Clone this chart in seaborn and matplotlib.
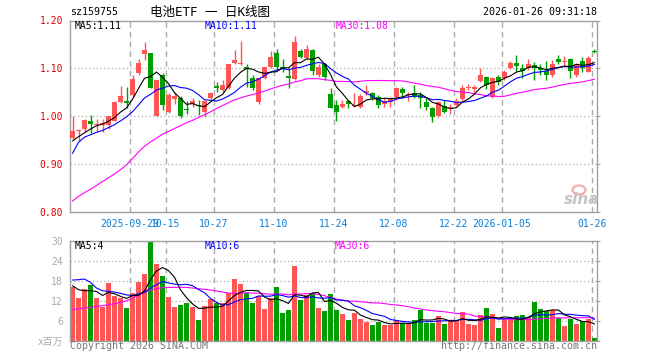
import numpy as np
import pandas as pd
import matplotlib
matplotlib.use("Agg")
import matplotlib.pyplot as plt
from matplotlib.patches import Ellipse
import seaborn as sns

# ---------------- data ----------------
open_ = [0.955, 0.968, 0.973, 0.990, 0.981, 0.981, 0.981, 0.990, 1.030, 1.031,
         1.044, 1.091, 1.129, 1.131, 1.000, 1.087, 1.009, 1.036, 1.038, 1.015,
         1.025, 1.023, 1.008, 1.037, 1.063, 1.054, 1.058, 1.112, 1.109, 1.102,
         1.080, 1.030, 1.079, 1.102, 1.131, 1.102, 1.084, 1.077, 1.136, 1.122,
         1.138, 1.087, 1.110, 1.047, 1.023, 1.020, 1.031, 1.022, 1.020, 1.049,
         1.049, 1.040, 1.026, 1.030, 1.039, 1.056, 1.044, 1.049, 1.045, 1.030,
         1.017, 1.000, 1.022, 1.016, 1.024, 1.036, 1.058, 1.056, 1.073, 1.082,
         1.040, 1.082, 1.079, 1.101, 1.111, 1.101, 1.100, 1.107, 1.100, 1.094,
         1.086, 1.119, 1.114, 1.119, 1.086, 1.115, 1.093, 1.136]
close = [0.969, 0.970, 0.992, 0.984, 0.984, 0.986, 1.000, 1.030, 1.042, 1.027,
         1.077, 1.112, 1.138, 1.059, 1.075, 1.023, 1.045, 1.042, 1.000, 1.013,
         1.031, 1.022, 1.032, 1.049, 1.058, 1.065, 1.108, 1.117, 1.110, 1.098,
         1.058, 1.079, 1.102, 1.123, 1.102, 1.098, 1.080, 1.155, 1.124, 1.140,
         1.095, 1.102, 1.082, 1.017, 1.009, 1.026, 1.026, 1.023, 1.042, 1.052,
         1.038, 1.024, 1.031, 1.037, 1.059, 1.049, 1.047, 1.040, 1.037, 1.020,
         0.999, 1.030, 1.009, 1.020, 1.031, 1.058, 1.061, 1.061, 1.086, 1.065,
         1.080, 1.072, 1.093, 1.111, 1.105, 1.094, 1.108, 1.100, 1.096, 1.087,
         1.110, 1.114, 1.115, 1.094, 1.108, 1.100, 1.122, 1.135]
high = [1.000, 0.974, 0.994, 1.003, 0.994, 0.993, 1.001, 1.031, 1.063, 1.061,
        1.086, 1.119, 1.155, 1.131, 1.076, 1.091, 1.049, 1.051, 1.043, 1.031,
        1.037, 1.033, 1.033, 1.051, 1.072, 1.075, 1.108, 1.138, 1.157, 1.108,
        1.087, 1.080, 1.103, 1.136, 1.141, 1.119, 1.100, 1.167, 1.141, 1.148,
        1.141, 1.110, 1.112, 1.058, 1.033, 1.033, 1.033, 1.049, 1.047, 1.066,
        1.051, 1.044, 1.037, 1.040, 1.061, 1.061, 1.051, 1.066, 1.051, 1.037,
        1.020, 1.031, 1.033, 1.026, 1.038, 1.066, 1.068, 1.065, 1.100, 1.084,
        1.082, 1.086, 1.096, 1.115, 1.128, 1.110, 1.119, 1.114, 1.110, 1.115,
        1.117, 1.128, 1.126, 1.122, 1.112, 1.124, 1.126, 1.141]
low = [0.952, 0.947, 0.966, 0.964, 0.969, 0.967, 0.972, 0.989, 1.027, 1.017,
       1.040, 1.087, 1.117, 1.058, 1.000, 1.013, 1.006, 1.026, 0.997, 1.004,
       1.020, 1.002, 0.999, 1.035, 1.051, 1.051, 1.056, 1.110, 1.106, 1.061,
       1.054, 1.026, 1.077, 1.100, 1.096, 1.093, 1.059, 1.076, 1.122, 1.119,
       1.086, 1.082, 1.075, 1.016, 0.990, 1.017, 1.017, 1.020, 1.017, 1.045,
       1.033, 1.016, 1.020, 1.020, 1.033, 1.037, 1.031, 1.037, 1.017, 1.013,
       0.988, 0.999, 1.006, 1.004, 1.022, 1.033, 1.054, 1.051, 1.072, 1.056,
       1.038, 1.065, 1.075, 1.098, 1.094, 1.080, 1.096, 1.075, 1.086, 1.075,
       1.082, 1.110, 1.103, 1.080, 1.082, 1.093, 1.092, 1.132]
volume = [16.0, 12.8, 15.5, 16.7, 12.8, 10.1, 17.3, 13.5, 12.8, 9.8,
          14.3, 17.6, 20.1, 29.6, 23.0, 19.4, 13.1, 10.1, 10.7, 11.3,
          10.1, 6.2, 10.4, 12.5, 11.2, 11.4, 14.2, 18.5, 17.1, 14.2,
          11.4, 13.4, 9.5, 12.7, 16.1, 8.4, 9.2, 22.5, 12.2, 13.6,
          14.2, 9.8, 8.9, 14.0, 9.2, 8.0, 6.2, 8.4, 6.6, 5.6,
          4.7, 5.6, 4.7, 4.7, 6.2, 5.2, 4.9, 6.2, 9.2, 5.4,
          5.4, 7.4, 5.0, 6.0, 6.0, 8.6, 5.0, 4.7, 7.7, 9.8,
          8.0, 3.8, 6.4, 6.8, 7.4, 7.7, 7.0, 11.6, 9.5, 8.9,
          9.2, 6.8, 4.4, 6.6, 5.0, 6.0, 6.6, 0.8]

# moving-average values at the start of the window
ma5_head = [0.948, 0.957, 0.965, 0.973]
ma10_head = [0.922, 0.945, 0.956, 0.961, 0.966, 0.970, 0.976, 0.982, 0.990]
ma30_head = [0.822, 0.832, 0.840, 0.847, 0.855, 0.863, 0.871, 0.879, 0.888, 0.898,
             0.911, 0.925, 0.937, 0.946, 0.954, 0.962, 0.968, 0.974, 0.980, 0.986,
             0.991, 0.997, 1.003, 1.009, 1.016, 1.022, 1.028, 1.034, 1.038]
vma5_head = [16.5, 15.3, 15.0, 15.0]
vma10_head = [18.2, 18.3, 18.5, 17.5, 15.8, 15.0, 14.8, 14.6, 14.2]
vma30_head = [9.3, 9.6, 9.8, 10.0, 10.3, 10.5, 10.8, 11.1, 11.5, 12.0,
              12.7, 13.7, 14.5, 15.2, 15.6, 15.9, 16.0, 16.0, 16.0, 16.0,
              15.8, 15.6, 15.4, 15.2, 14.9, 14.6, 14.3, 14.2, 14.2]

tick_pos = [10, 16, 24, 34, 44, 54, 64, 72, 87]
tick_labels = ["2025-09-29", "10-15", "10-27", "11-10", "11-24",
               "12-08", "12-22", "2026-01-05", "01-26"]
price_ticks = [0.80, 0.90, 1.00, 1.10, 1.20]
price_tick_labels = ["0.80", "0.90", "1.00", "1.10", "1.20"]
vol_ticks = [0, 6, 12, 18, 24, 30]
vol_tick_labels = ["x百万", "6", "12", "18", "24", "30"]

# ---------------- build frame ----------------
df = pd.DataFrame({"open": open_, "close": close, "high": high, "low": low,
                   "volume": volume})
n = len(df)
df["x"] = np.arange(n)


def moving(series, w, head):
    m = series.rolling(w).mean()
    m.iloc[:len(head)] = head
    return m


df["ma5"] = moving(df["close"], 5, ma5_head)
df["ma10"] = moving(df["close"], 10, ma10_head)
df["ma30"] = moving(df["close"], 30, ma30_head)
df["vma5"] = moving(df["volume"], 5, vma5_head)
df["vma10"] = moving(df["volume"], 10, vma10_head)
df["vma30"] = moving(df["volume"], 30, vma30_head)

RED = "#ff5555"
GREEN = "#009e00"
GRID = "#aaaaaa"
FRAME = "#a0a0a0"
MONO = ["DejaVu Sans Mono", "Noto Sans CJK SC"]
LW = 0.8

sns.set_style("white")
plt.rcParams["font.family"] = MONO

W, H = 660, 360
fig = plt.figure(figsize=(W / 100, H / 100), dpi=100)


def fr(x0, y0, x1, y1):
    return [x0 / W, 1 - y1 / H, (x1 - x0) / W, (y1 - y0) / H]


ax = fig.add_axes(fr(70, 20.5, 597, 211.7))
axv = fig.add_axes(fr(70, 240.7, 597, 340.7))

xlim = (-0.417, n - 1 + 0.417)
up = df["close"] >= df["open"]
cols = np.where(up, RED, GREEN)

# grids
for a in (ax, axv):
    for p in tick_pos:
        a.axvline(p - 0.42, color=GRID, lw=1.0, ls=(0, (4, 3)), zorder=0)
for yv in [0.90, 1.00, 1.10]:
    ax.axhline(yv, color=GRID, lw=0.9, ls=(0, (1, 2)), zorder=0)
for yv in [6, 12, 18, 24]:
    axv.axhline(yv, color=GRID, lw=0.9, ls=(0, (1, 2)), zorder=0)

# candles
ax.vlines(df["x"], df["low"], df["high"], colors=cols, lw=1.0, zorder=2)
body_b = np.minimum(df["open"], df["close"])
body_h = np.maximum((df["close"] - df["open"]).abs(), 0.0022)
ax.bar(df["x"], body_h, bottom=body_b, width=0.8, color=cols, linewidth=0,
       zorder=3)

# moving averages
sns.lineplot(data=df, x="x", y="ma30", ax=ax, color="#ff00ff", lw=LW,
             zorder=4, legend=False)
sns.lineplot(data=df, x="x", y="ma10", ax=ax, color="#0000ff", lw=LW,
             zorder=5, legend=False)
sns.lineplot(data=df, x="x", y="ma5", ax=ax, color="black", lw=LW,
             zorder=6, legend=False)

# volume
axv.bar(df["x"], df["volume"], width=0.8, color=cols, linewidth=0, zorder=2)
sns.lineplot(data=df, x="x", y="vma30", ax=axv, color="#ff00ff", lw=LW,
             zorder=4, legend=False)
sns.lineplot(data=df, x="x", y="vma10", ax=axv, color="#0000ff", lw=LW,
             zorder=5, legend=False)
sns.lineplot(data=df, x="x", y="vma5", ax=axv, color="black", lw=LW,
             zorder=6, legend=False)

# axes styling
ax.set_xlim(*xlim)
ax.set_ylim(0.80, 1.20)
axv.set_xlim(*xlim)
axv.set_ylim(0, 30)
for a in (ax, axv):
    a.set_xlabel("")
    a.set_ylabel("")
    for s in a.spines.values():
        s.set_color(FRAME)
        s.set_linewidth(1.0)
        s.set_visible(True)

ax.set_yticks(price_ticks)
ax.set_yticklabels(price_tick_labels)
ax.tick_params(axis="y", left=False, right=True, length=2, color=FRAME,
               labelsize=7, labelcolor="#e60000", pad=3)
ax.set_xticks([p - 0.42 for p in tick_pos])
ax.set_xticklabels(tick_labels)
ax.tick_params(axis="x", length=0, labelsize=7, labelcolor="#0a7fd8", pad=5)

axv.set_yticks(vol_ticks)
axv.set_yticklabels(vol_tick_labels)
axv.tick_params(axis="y", left=False, right=True, length=2, color=FRAME,
                labelsize=7, labelcolor="#aaaaaa", pad=3)
axv.set_xticks([])

# ---------------- texts ----------------


def ftext(x, y, s, **kw):
    fig.text(x / W, 1 - y / H, s, va="center", **kw)


ftext(70, 12, "sz159755", ha="left", fontsize=7.2, color="black")
ftext(210, 12.5, "电池ETF 一 日K线图", ha="center", fontsize=9, color="black")
ftext(597, 12, "2026-01-26 09:31:18", ha="right", fontsize=7.2, color="black")

ftext(75, 26, "MA5:1.11", ha="left", fontsize=7, color="black")
ftext(205, 26, "MA10:1.11", ha="left", fontsize=7, color="#0000ff")
ftext(336, 26, "MA30:1.08", ha="left", fontsize=7, color="#ff00ff")

ftext(75, 246, "MA5:4", ha="left", fontsize=7, color="black")
ftext(205, 246, "MA10:6", ha="left", fontsize=7, color="#0000ff")
ftext(335, 246, "MA30:6", ha="left", fontsize=7, color="#ff00ff")

ftext(70, 346, "Copyright 2026 SINA.COM", ha="left", fontsize=7.2,
      color="#777777")
ftext(597, 346, "http://finance.sina.com.cn", ha="right", fontsize=7.2,
      color="#777777")

# sina watermark
fig.text(582 / W, 1 - 200 / H, "sina", ha="center", va="center", fontsize=11,
         fontweight="bold", fontstyle="italic", color="#c4c4c4",
         family="DejaVu Sans")
fig.add_artist(Ellipse((579 / W, 1 - 190 / H), 13 / W, 9 / H,
                       facecolor="none", edgecolor="#f5a8a8", lw=1.5,
                       transform=fig.transFigure))

fig.savefig("out.png", dpi=100)
